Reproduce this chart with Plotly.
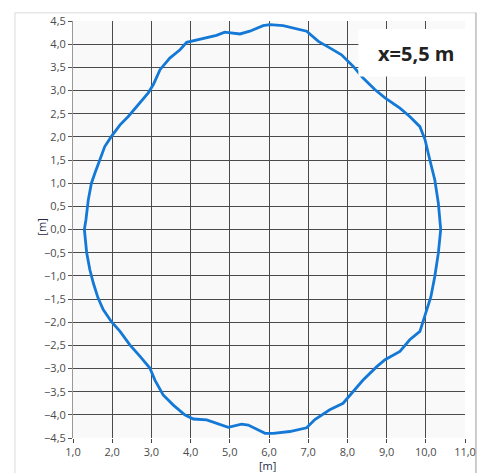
import plotly.graph_objects as go

# Cross-section contour at x = 5,5 m (closed curve, traced clockwise from the left)
contour_x = [1.29, 1.33, 1.39, 1.47, 1.56, 1.69, 1.81, 1.98, 2.20, 2.41, 2.62, 2.92, 3.05, 3.22,
             3.47, 3.73, 3.90, 4.11, 4.32, 4.66, 4.87, 5.00, 5.26, 5.51, 5.85, 6.02, 6.36, 6.96,
             7.26, 7.55, 7.85, 8.15, 8.40, 8.70, 8.96, 9.34, 9.59, 9.85, 9.98, 10.10, 10.23,
             10.32, 10.38, 10.32, 10.23, 10.13, 9.98, 9.85, 9.59, 9.34, 8.96, 8.75, 8.40, 8.15,
             7.89, 7.55, 7.30, 7.17, 6.96, 6.53, 6.11, 5.90, 5.47, 5.30, 4.96, 4.58, 4.41, 4.07,
             3.85, 3.56, 3.30, 3.09, 2.96, 2.71, 2.45, 2.20, 1.98, 1.77, 1.64, 1.52, 1.43, 1.35,
             1.29]
contour_y = [0.00, 0.21, 0.64, 1.00, 1.22, 1.50, 1.79, 2.01, 2.26, 2.44, 2.66, 2.95, 3.13, 3.45,
             3.70, 3.88, 4.04, 4.08, 4.12, 4.19, 4.26, 4.25, 4.22, 4.28, 4.40, 4.42, 4.40, 4.28,
             4.06, 3.92, 3.77, 3.52, 3.27, 3.02, 2.84, 2.62, 2.44, 2.22, 1.94, 1.51, 1.07,
             0.57, 0.00, -0.51, -1.01, -1.45, -1.88, -2.20, -2.38, -2.63, -2.81, -2.96, -3.25, -3.50,
             -3.75, -3.89, -4.02, -4.10, -4.28, -4.36, -4.40, -4.40, -4.22, -4.20, -4.27, -4.15, -4.11, -4.09,
             -4.00, -3.79, -3.57, -3.25, -2.99, -2.74, -2.49, -2.20, -1.99, -1.73, -1.48, -1.16, -0.87, -0.51,
             0.00]

x_ticks = [1, 2, 3, 4, 5, 6, 7, 8, 9, 10, 11]
y_ticks = [-4.5, -4.0, -3.5, -3.0, -2.5, -2.0, -1.5, -1.0, -0.5, 0.0,
           0.5, 1.0, 1.5, 2.0, 2.5, 3.0, 3.5, 4.0, 4.5]
label_text = "x=5,5 m"
axis_title = "[m]"

fig = go.Figure()
fig.add_trace(go.Scatter(x=contour_x, y=contour_y, mode="lines",
                         line=dict(color="#1479d6", width=2.8, shape="linear"),
                         hoverinfo="skip", showlegend=False))

tick_font = dict(family="Open Sans", size=11, color="#4a4a4a")
fig.update_layout(
    width=479, height=465,
    margin=dict(l=65, r=22, t=13, b=35, autoexpand=False),
    paper_bgcolor="white",
    plot_bgcolor="#f9f9f9",
    separators=", ",
    showlegend=False,
    xaxis=dict(range=[1, 11], tickvals=x_ticks, tickformat=".1f", automargin=False,
               showgrid=True, gridcolor="#4a4a4a", gridwidth=1,
               showline=False, zeroline=False,
               ticks="outside", ticklen=4, tickcolor="#444", tickwidth=1,
               tickfont=tick_font),
    yaxis=dict(range=[-4.5, 4.5], tickvals=y_ticks, tickformat=".1f", automargin=False,
               showgrid=True, gridcolor="#4a4a4a", gridwidth=1,
               showline=True, linecolor="#999", linewidth=1, zeroline=False,
               ticks="outside", ticklen=4, tickcolor="#555", tickwidth=1,
               tickfont=tick_font),
)

title_font = dict(family="Open Sans", size=11, color="#1f2a44")
fig.add_annotation(x=0.497, y=-0.066, xref="paper", yref="paper", text=axis_title,
                   showarrow=False, font=title_font, xanchor="center", yanchor="middle")
fig.add_annotation(x=-0.08, y=0.506, xref="paper", yref="paper", text=axis_title,
                   showarrow=False, font=title_font, textangle=-90,
                   xanchor="center", yanchor="middle")

# label box
fig.add_shape(type="rect", xref="x", yref="y", x0=8.28, x1=11.0, y0=3.30, y1=4.33,
              fillcolor="white", line=dict(width=0), layer="above")
fig.add_annotation(x=9.75, y=3.79, xref="x", yref="y", text="<b>" + label_text + "</b>",
                   showarrow=False, font=dict(family="Open Sans", size=20, color="#222"))

# outer frame lines
fig.add_shape(type="line", xref="paper", yref="paper", x0=-0.148, x1=-0.148, y0=-0.1, y1=1.02,
              line=dict(color="#e6e6e6", width=1.5))
fig.add_shape(type="line", xref="paper", yref="paper", x0=-0.148, x1=1.028, y0=1.02, y1=1.02,
              line=dict(color="#e6e6e6", width=1.5))
fig.add_shape(type="line", xref="paper", yref="paper", x0=1.028, x1=1.028, y0=-0.1, y1=1.02,
              line=dict(color="#9a9a9a", width=1))

fig.write_html("out.html")
